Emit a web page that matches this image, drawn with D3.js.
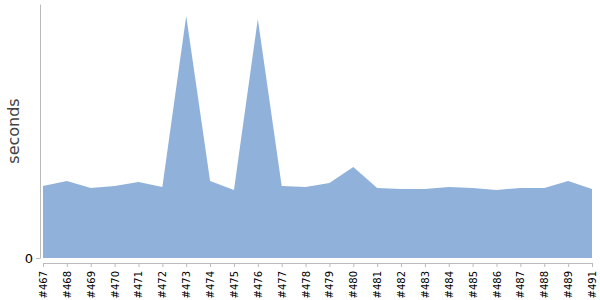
<!DOCTYPE html>
<html>
<head>
<meta charset="utf-8">
<script src="https://cdn.jsdelivr.net/npm/d3@7"></script>
<style>
  body { margin: 0; background: #fff; }
  svg { font-family: "DejaVu Sans", sans-serif; }
  .axis path, .axis line { stroke: #bbb; }
  .axis text { fill: #000; }
</style>
</head>
<body>
<svg id="chart" width="600" height="300"></svg>
<script>
// build ids (note: #490 is absent in the source)
const builds = ["#467","#468","#469","#470","#471","#472","#473","#474","#475","#476","#477","#478",
  "#479","#480","#481","#482","#483","#484","#485","#486","#487","#488","#489","#491"];
const seconds = [7.2, 7.7, 7.0, 7.2, 7.6, 7.1, 24.2, 7.7, 6.8, 23.9, 7.2, 7.1,
  7.5, 9.1, 7.0, 6.9, 6.9, 7.1, 7.0, 6.8, 7.0, 7.0, 7.7, 6.9];
const yTicks = [0];

const svg = d3.select("#chart");
const margin = { top: 4, right: 8, bottom: 42, left: 43 };
const width = +svg.attr("width") - margin.left - margin.right;
const height = +svg.attr("height") - margin.top - margin.bottom;

const xScale = d3.scalePoint().domain(builds).range([0, width]);
const yScale = d3.scaleLinear().domain([0, 25.4]).range([height, 0]);

const canvas = svg.append("g")
    .attr("transform", `translate(${margin.left},${margin.top})`);

const area = d3.area()
    .x(function (d, i) { return xScale(builds[i]); })
    .y0(yScale(0))
    .y1(function (d) { return yScale(d); });

canvas.append("path")
    .datum(seconds)
    .attr("fill", "#8fb1da")
    .attr("d", area);

// x axis, offset a little below the area
const xAxis = canvas.append("g")
    .attr("class", "axis")
    .attr("transform", "translate(0," + (height + 5) + ")")
    .call(d3.axisBottom(xScale).tickSize(4).tickSizeOuter(0));
xAxis.selectAll("text")
    .attr("font-size", 10)
    .attr("font-family", "DejaVu Sans, sans-serif")
    .attr("text-anchor", "end")
    .attr("dx", 0)
    .attr("dy", "0.35em")
    .attr("transform", "rotate(-90)")
    .attr("x", -8)
    .attr("y", 0);

// y axis, offset a little left of the area
const yAxis = canvas.append("g")
    .attr("class", "axis")
    .attr("transform", "translate(-3,0)")
    .call(d3.axisLeft(yScale).tickValues(yTicks).tickSize(4).tickSizeOuter(0));
yAxis.selectAll("text")
    .attr("font-size", 13)
    .attr("fill", "#444")
    .attr("font-family", "DejaVu Sans, sans-serif");

svg.append("text")
    .attr("transform", "translate(19," + (margin.top + height / 2) + ") rotate(-90)")
    .style("text-anchor", "middle")
    .attr("font-size", 16)
    .attr("fill", "#444")
    .text("seconds");
</script>
</body>
</html>
